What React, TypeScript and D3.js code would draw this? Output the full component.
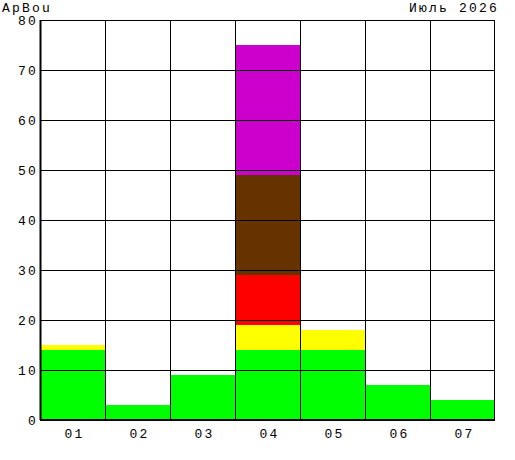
import React from 'react';
import * as d3 from 'd3';

const categories = ['01', '02', '03', '04', '05', '06', '07'];
const seriesNames = ['green', 'yellow', 'red', 'brown', 'magenta'];
const greenValues = [14, 3, 9, 14, 14, 7, 4];
const yellowValues = [1, 0, 0, 5, 4, 0, 0];
const redValues = [0, 0, 0, 10, 0, 0, 0];
const brownValues = [0, 0, 0, 20, 0, 0, 0];
const magentaValues = [0, 0, 0, 26, 0, 0, 0];
const yTicks = [0, 10, 20, 30, 40, 50, 60, 70, 80];
const colors = ['#00ff00', '#ffff00', '#ff0000', '#663300', '#cc00cc'];

const width = 515;
const height = 460;
const margin = { top: 20, right: 20, bottom: 40, left: 40 };
const font = '"Liberation Mono", "DejaVu Sans Mono", monospace';
const ls = 2.2;

export default function App() {
  const chartW = width - margin.left - margin.right;
  const chartH = height - margin.top - margin.bottom;

  const x = d3.scaleBand().domain(categories).range([0, chartW]).padding(0);
  const y = d3.scaleLinear().domain([0, 80]).range([chartH, 0]);

  const rows = categories.map((c, i) => ({
    cat: c,
    green: greenValues[i],
    yellow: yellowValues[i],
    red: redValues[i],
    brown: brownValues[i],
    magenta: magentaValues[i],
  }));
  const stacked = d3.stack<any>().keys(seriesNames)(rows);

  return (
    <svg width={width} height={height} style={{ position: 'absolute', left: 0, top: 0, background: '#fff' }}>
      <text x={2} y={12} fontFamily={font} fontSize={13} letterSpacing={ls} fill="#000">ApBou</text>
      <text x={499} y={12} fontFamily={font} fontSize={13} letterSpacing={ls} fill="#000" textAnchor="end">Июль 2026</text>
      <g transform={`translate(${margin.left},${margin.top})`}>
        {stacked.map((s, si) =>
          s.map((d, i) =>
            d[1] - d[0] > 0 ? (
              <rect
                key={`${si}-${i}`}
                x={x(categories[i])}
                y={y(d[1])}
                width={x.bandwidth()}
                height={y(d[0]) - y(d[1])}
                fill={colors[si]}
              />
            ) : null
          )
        )}
        {yTicks.map((t) => (
          <line key={`h${t}`} x1={0} x2={chartW} y1={Math.round(y(t)) + 0.5} y2={Math.round(y(t)) + 0.5} stroke="#000" />
        ))}
        {categories.map((c) => (
          <line key={`v${c}`} x1={Math.round(x(c)!) + 0.5} x2={Math.round(x(c)!) + 0.5} y1={0} y2={chartH} stroke="#000" />
        ))}
        <line x1={chartW - 0.5} x2={chartW - 0.5} y1={0} y2={chartH} stroke="#000" />
        <line x1={0} x2={chartW} y1={chartH} y2={chartH} stroke="#000" strokeWidth={2} />
        <line x1={0.5} x2={0.5} y1={0} y2={chartH} stroke="#000" strokeWidth={2} />
        {yTicks.map((t) => (
          <text key={`yl${t}`} x={-2} y={y(t) + 5} fontFamily={font} fontSize={13} letterSpacing={ls} textAnchor="end" fill="#000">
            {t}
          </text>
        ))}
        {categories.map((c) => (
          <text key={`xl${c}`} x={x(c)! + x.bandwidth() / 2 + 2} y={chartH + 18} fontFamily={font} fontSize={13} letterSpacing={ls} textAnchor="middle" fill="#000">
            {c}
          </text>
        ))}
      </g>
    </svg>
  );
}
